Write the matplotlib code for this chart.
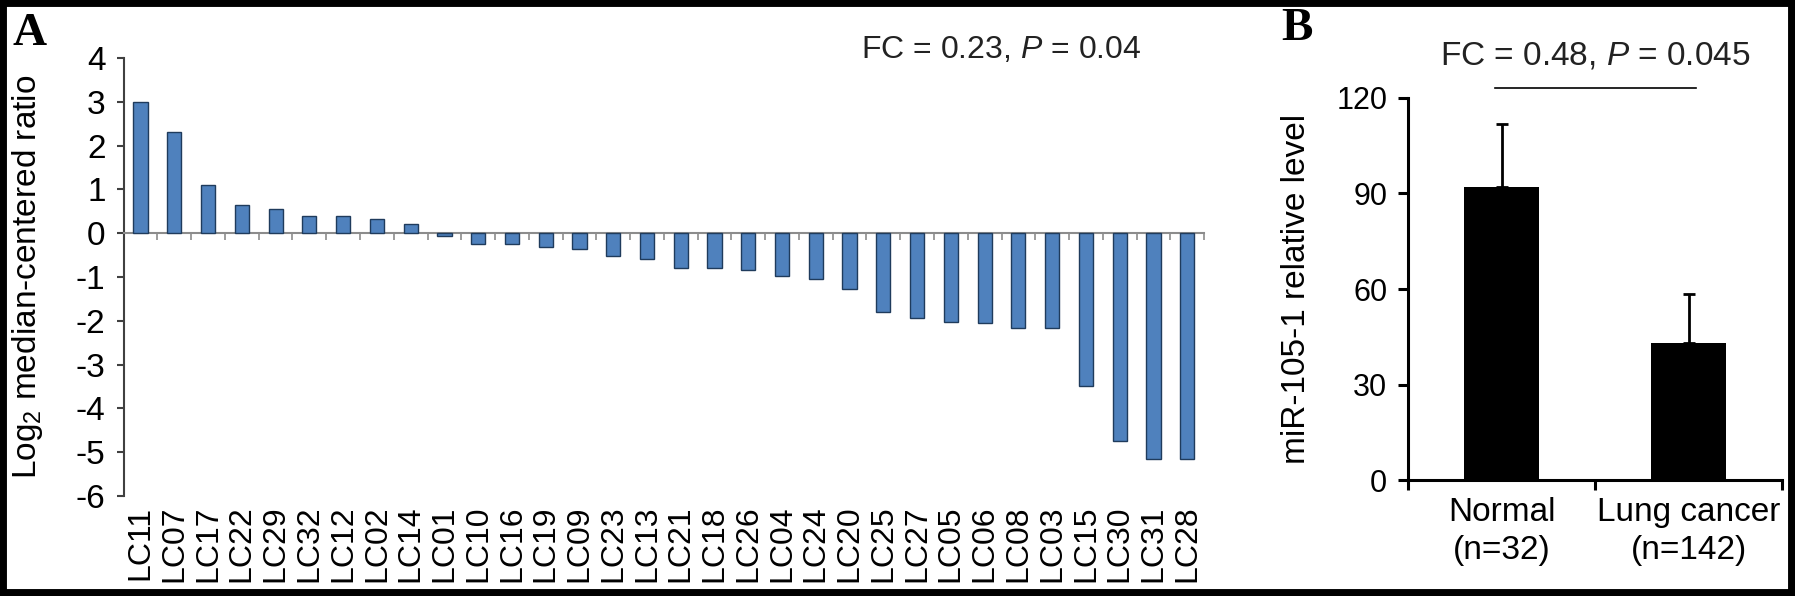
import numpy as np
import matplotlib.pyplot as plt
from matplotlib.patches import Rectangle

plt.rcParams['font.family'] = ['Liberation Sans', 'DejaVu Sans']
plt.rcParams['axes.unicode_minus'] = False
plt.rcParams['mathtext.fontset'] = 'custom'
plt.rcParams['mathtext.rm'] = 'Liberation Sans'
plt.rcParams['mathtext.it'] = 'Liberation Sans:italic'
plt.rcParams['mathtext.default'] = 'regular'

# panel A: log2 median-centered ratio per sample
samples = ["LC11", "LC07", "LC17", "LC22", "LC29", "LC32", "LC12", "LC02",
           "LC14", "LC01", "LC10", "LC16", "LC19", "LC09", "LC23", "LC13",
           "LC21", "LC18", "LC26", "LC04", "LC24", "LC20", "LC25", "LC27",
           "LC05", "LC06", "LC08", "LC03", "LC15", "LC30", "LC31", "LC28"]
ratios = [3.0, 2.3, 1.1, 0.65, 0.55, 0.4, 0.4, 0.33,
          0.2, -0.07, -0.25, -0.25, -0.32, -0.36, -0.53, -0.6,
          -0.8, -0.8, -0.83, -0.97, -1.05, -1.28, -1.8, -1.94,
          -2.02, -2.05, -2.17, -2.17, -3.5, -4.75, -5.15, -5.16]

# panel B: relative level, mean and upper error
groups = ["Normal\n(n=32)", "Lung cancer\n(n=142)"]
levels = [92, 43]
level_err = [19.7, 15.5]

fig = plt.figure(figsize=(17.95, 5.96), dpi=100)

# ---- A
axA = fig.add_axes([0.0689, 0.1678, 0.6019, 0.7349])
x = np.arange(len(samples))
axA.bar(x, ratios, width=0.42, color='#4F81BD', edgecolor='#1F3B5C',
        linewidth=1.0, zorder=3)
axA.set_xlim(-0.5, len(samples) - 0.5)
axA.set_ylim(-6, 4)
axA.set_yticks(range(-6, 5))
for s in ['top', 'right']:
    axA.spines[s].set_visible(False)
axA.spines['left'].set_color('#404040')
axA.spines['left'].set_linewidth(1.5)
axA.spines['bottom'].set_position(('data', 0))
axA.spines['bottom'].set_color('#8c8c8c')
axA.spines['bottom'].set_linewidth(1.5)
axA.set_xticks([])
axA.set_xticks(np.arange(-0.5, len(samples), 1), minor=True)
axA.tick_params(axis='x', which='minor', length=5, width=1.2,
                color='#8c8c8c', direction='out')
axA.tick_params(axis='y', length=5, width=1.5, color='#404040',
                labelsize=24, pad=8)
sec = axA.secondary_xaxis('bottom')
sec.set_xticks(x, labels=samples, rotation=90)
sec.tick_params(length=0, pad=7, labelsize=23)
sec.spines['bottom'].set_visible(False)
axA.set_ylabel('Log$_2$ median-centered ratio', fontsize=24)
axA.yaxis.set_label_coords(-0.0727, 0.5)
axA.text(0.812, 1.0, 'FC = 0.23, $\\mathit{P}$ = 0.04', transform=axA.transAxes,
         ha='center', va='baseline', fontsize=23, color='#222222')

# ---- B
axB = fig.add_axes([0.7844, 0.1946, 0.2084, 0.641])
xb = np.arange(len(groups))
axB.bar(xb, levels, width=0.4, color='black', zorder=3,
        yerr=[[0] * len(levels), level_err], capsize=4.5,
        error_kw=dict(elinewidth=2, capthick=2, ecolor='black'))
axB.set_xlim(-0.5, 1.5)
axB.set_ylim(0, 120)
axB.set_yticks(range(0, 121, 30))
for s in ['top', 'right']:
    axB.spines[s].set_visible(False)
for s in ['left', 'bottom']:
    axB.spines[s].set_linewidth(2.2)
axB.set_xticks(xb, labels=groups)
axB.set_xticks([-0.5, 0.5, 1.5], minor=True)
axB.tick_params(axis='x', which='major', length=0, labelsize=24, pad=12)
axB.tick_params(axis='x', which='minor', length=7, width=2.2, direction='out')
axB.tick_params(axis='y', length=7, width=2.2, labelsize=22, pad=8)
for lbl in axB.get_xticklabels():
    lbl.set_linespacing(1.3)
axB.set_ylabel('miR-105-1 relative level', fontsize=24)
axB.yaxis.set_label_coords(-0.256, 0.5)
axB.plot([-0.035, 1.04], [123, 123], color='black', linewidth=1.2, clip_on=False)
axB.text(0.5, 130.5, 'FC = 0.48, $\\mathit{P}$ = 0.045', ha='center',
         va='baseline', fontsize=24, color='#222222')

# panel letters
fig.text(0.0067, 0.9245, 'A', fontsize=34, fontweight='bold',
         family='Liberation Serif', va='baseline')
fig.text(0.714, 0.933, 'B', fontsize=34, fontweight='bold',
         family='Liberation Serif', va='baseline')

# black frame
fig.patches.append(Rectangle((0, 0), 1, 1, transform=fig.transFigure,
                             fill=False, edgecolor='black', linewidth=10))

fig.savefig('out.png', dpi=100)
